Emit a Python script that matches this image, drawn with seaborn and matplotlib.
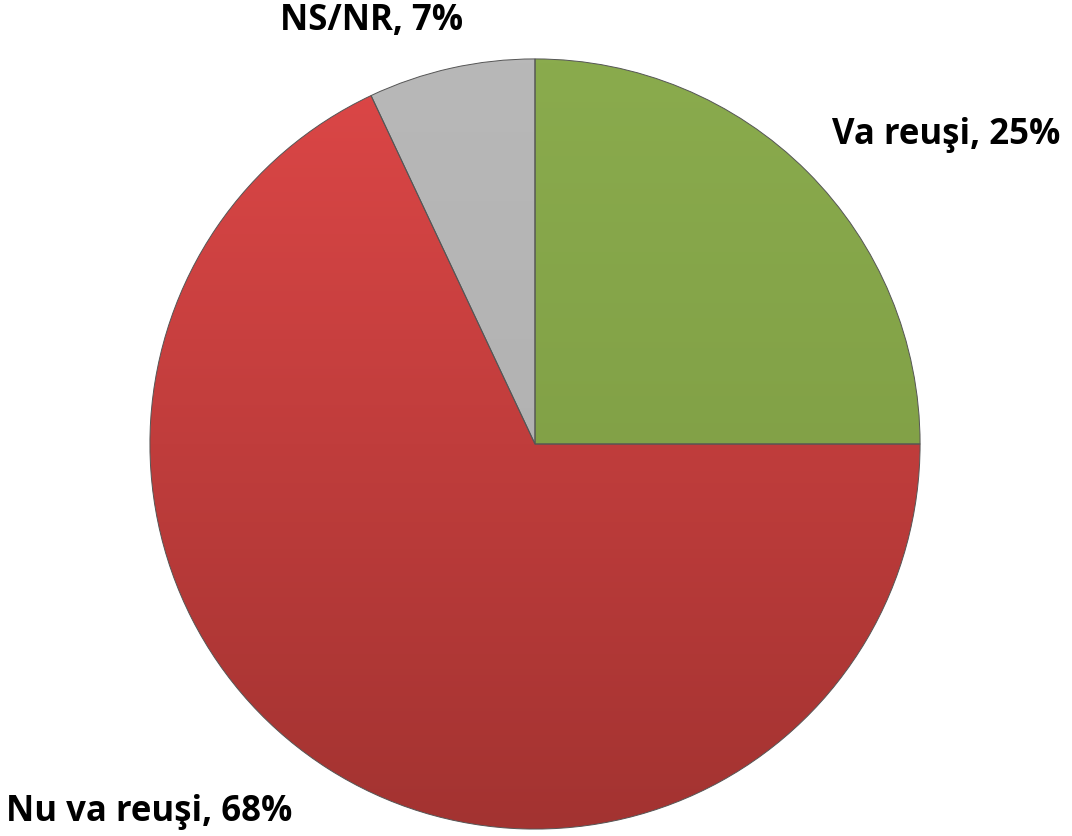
import matplotlib
matplotlib.use("Agg")
import matplotlib.pyplot as plt
import matplotlib.colors as mcolors
import numpy as np
import seaborn as sns

categories = ["Va reuşi", "Nu va reuşi", "NS/NR"]
values = [25, 68, 7]
top_colors = ["#8AAB4D", "#DD4747", "#B8B8B8"]
bottom_colors = ["#7A9841", "#A33331", "#ADADAD"]

sns.set_theme(style="white")
plt.rcParams["font.family"] = ["Open Sans", "DejaVu Sans"]

fig = plt.figure(figsize=(10.72, 8.37), dpi=100)
W, H = 1072, 837
cx, cy, r = 535, 445, 387
ax = fig.add_axes([(cx - r) / W, (H - cy - r) / H, 2 * r / W, 2 * r / H])
wedges, _ = ax.pie(values, colors=top_colors, startangle=90, counterclock=False,
                   radius=1.0,
                   wedgeprops=dict(edgecolor="#555555", linewidth=0.7))
ax.set_aspect("equal")
ax.axis("off")

# vertical shading of each slice, clipped to the wedge
t = np.linspace(0, 1, 256)[:, None]
for w, c0, c1 in zip(wedges, top_colors, bottom_colors):
    cmap = mcolors.LinearSegmentedColormap.from_list("g", [c1, c0])
    im = ax.imshow(np.repeat(t, 2, axis=1), cmap=cmap, origin="lower",
                   extent=[-1, 1, -1, 1], aspect="auto", zorder=w.get_zorder() + 0.1,
                   interpolation="bilinear")
    im.set_clip_path(w)
    w.set_facecolor("none")
    w.set_zorder(w.get_zorder() + 0.2)
ax.set_xlim(-1.005, 1.005)
ax.set_ylim(-1.005, 1.005)

label_pos = {"Va reuşi": (946, 135), "Nu va reuşi": (149, 812), "NS/NR": (372, 21)}
for c, v in zip(categories, values):
    x, y = label_pos[c]
    fig.text(x / W, 1 - y / H, f"{c}, {v}%", ha="center", va="center",
             fontsize=25, fontweight="bold", color="black")

fig.savefig("out.png", dpi=100)
